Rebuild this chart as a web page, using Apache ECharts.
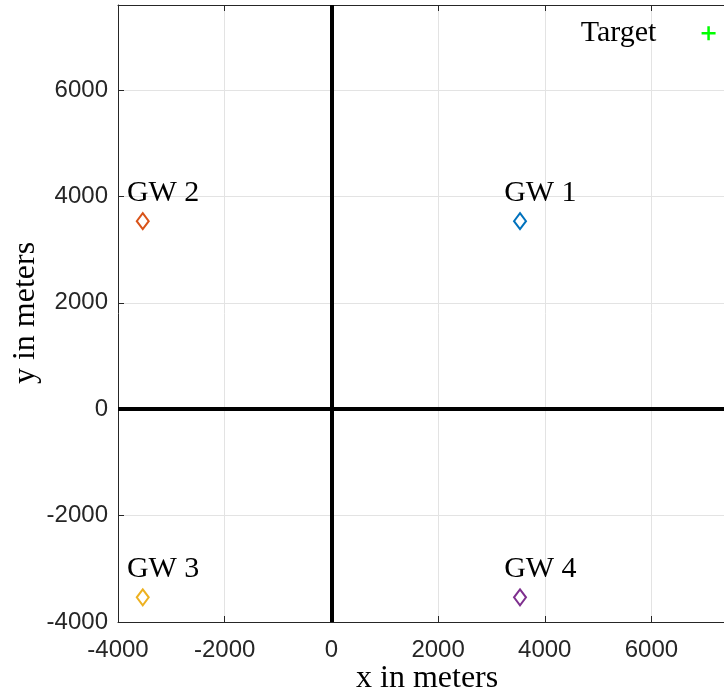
<!DOCTYPE html>
<html>
<head>
<meta charset="utf-8">
<script src="https://cdn.jsdelivr.net/npm/echarts@6/dist/echarts.min.js"></script>
<style>
  html, body { margin: 0; padding: 0; background: #fff; }
  #chart { width: 724px; height: 698px; }
</style>
</head>
<body>
<div id="chart"></div>
<script>
// Gateway positions (meters)
const gwNames = ['GW 1', 'GW 2', 'GW 3', 'GW 4'];
const gwX = [3536, -3536, -3536, 3536];
const gwY = [3536, 3536, -3536, -3536];
const gwColors = ['#0072BD', '#D95319', '#EDB120', '#7E2F8E'];

// Target position (meters)
const targetName = 'Target';
const targetX = [7071];
const targetY = [7071];

// Axis ranges and tick spacing
const xRange = [-4000, 7360];
const yRange = [-4000, 7600];
const tickStep = 2000;

const serif = '"Liberation Serif", "DejaVu Serif", serif';
const sans = '"Liberation Sans", Arial, sans-serif';
const axisInk = '#262626';

const chart = echarts.init(document.getElementById('chart'), null, { renderer: 'canvas' });

const gwSeries = gwNames.map((name, i) => ({
  type: 'scatter',
  name: name,
  data: [[gwX[i], gwY[i]]],
  symbol: 'diamond',
  symbolSize: [12, 16],
  itemStyle: { color: '#fff', borderColor: gwColors[i], borderWidth: 2, opacity: 1 },
  label: {
    show: true,
    formatter: name,
    position: [-9, -19],
    align: 'left',
    verticalAlign: 'middle',
    fontFamily: serif,
    fontSize: 30,
    color: '#000'
  },
  z: 5
}));

const plainTick = v => String(v);

const option = {
  animation: false,
  backgroundColor: '#fff',
  grid: { left: 118, top: 5, width: 606, height: 617, containLabel: false },
  xAxis: [{
    type: 'value',
    min: xRange[0], max: xRange[1], interval: tickStep,
    axisLine: { show: true, onZero: false, lineStyle: { color: axisInk, width: 1 } },
    axisTick: { show: true, inside: true, length: 6, lineStyle: { color: axisInk } },
    axisLabel: { show: true, showMaxLabel: false, margin: 16, color: axisInk, fontFamily: sans, fontSize: 24, formatter: plainTick },
    splitLine: { show: true, lineStyle: { color: '#e3e3e3', width: 1 } }
  }, {
    type: 'value', position: 'top',
    min: xRange[0], max: xRange[1], interval: tickStep,
    axisLine: { show: true, onZero: false, lineStyle: { color: axisInk, width: 1 } },
    axisTick: { show: true, inside: true, length: 6, lineStyle: { color: axisInk } },
    axisLabel: { show: false },
    splitLine: { show: false }
  }],
  yAxis: [{
    type: 'value',
    min: yRange[0], max: yRange[1], interval: tickStep,
    axisLine: { show: true, onZero: false, lineStyle: { color: axisInk, width: 1 } },
    axisTick: { show: true, inside: true, length: 6, lineStyle: { color: axisInk } },
    axisLabel: { show: true, showMaxLabel: false, margin: 10, color: axisInk, fontFamily: sans, fontSize: 24, formatter: plainTick },
    splitLine: { show: true, lineStyle: { color: '#e3e3e3', width: 1 } }
  }],
  graphic: [{
    type: 'text',
    x: 356, y: 679,
    style: { text: 'x in meters', font: '32px ' + serif, fill: '#000', align: 'left', verticalAlign: 'middle' }
  }, {
    type: 'text',
    rotation: Math.PI / 2,
    x: 26, y: 313,
    style: { text: 'y in meters', font: '32px ' + serif, fill: '#000', align: 'center', verticalAlign: 'middle' }
  }],
  series: [{
    type: 'line',
    data: [],
    silent: true,
    markLine: {
      silent: true,
      symbol: 'none',
      label: { show: false },
      lineStyle: { color: '#000', width: 4, type: 'solid' },
      data: [{ xAxis: 0 }, { yAxis: 0 }]
    },
    z: 3
  }].concat(gwSeries).concat([{
    type: 'scatter',
    name: targetName,
    data: [[targetX[0], targetY[0]]],
    symbol: 'path://M10,0L10,20M0,10L20,10',
    symbolSize: 14,
    itemStyle: { color: 'rgba(0,0,0,0)', borderColor: '#00FF00', borderWidth: 2.5, opacity: 1 },
    label: {
      show: true,
      formatter: targetName,
      position: 'left',
      distance: 44,
      fontFamily: serif,
      fontSize: 30,
      color: '#000'
    },
    z: 5
  }])
};

chart.setOption(option);
</script>
</body>
</html>
